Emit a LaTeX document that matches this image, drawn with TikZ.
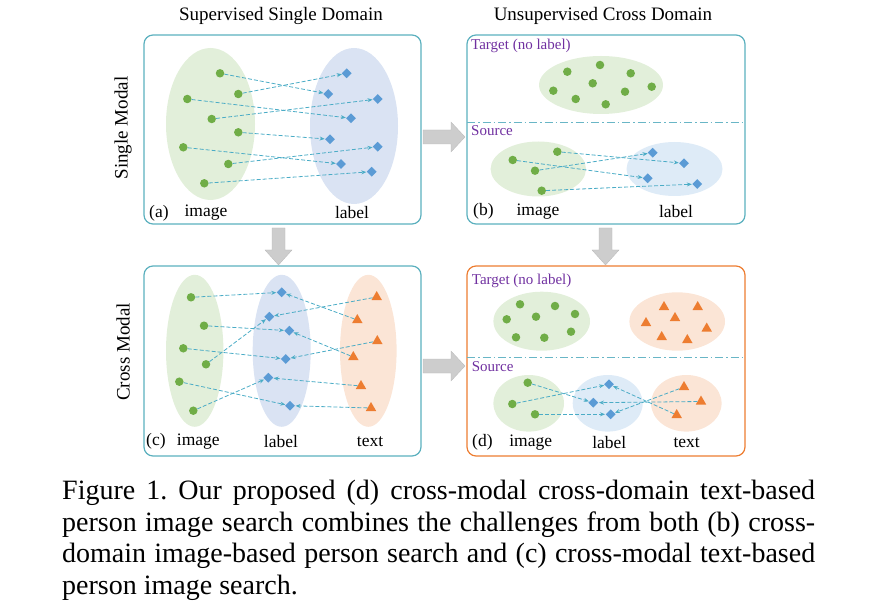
\documentclass[tikz,border=0pt]{standalone}
\usepackage{fontspec}
\setmainfont{Liberation Serif}
\usepackage{tikz}
\usetikzlibrary{shapes.geometric,arrows.meta}
\frenchspacing

\definecolor{dotgreen}{RGB}{112,173,71}
\definecolor{diablue}{RGB}{91,155,213}
\definecolor{triorange}{RGB}{237,125,49}
\definecolor{ellgreen}{RGB}{226,239,218}
\definecolor{ellblue}{RGB}{218,227,243}
\definecolor{ellblueL}{RGB}{222,235,247}
\definecolor{ellorange}{RGB}{251,229,214}
\definecolor{linkteal}{RGB}{75,172,198}
\definecolor{frameteal}{RGB}{91,176,190}
\definecolor{splitteal}{RGB}{105,182,198}
\definecolor{domviolet}{RGB}{112,48,160}
\definecolor{blockgray}{RGB}{205,205,205}

\begin{document}
\begin{tikzpicture}[x=1pt,y=1pt,yscale=-1,xscale=1,
	gdot/.style={circle, fill=dotgreen, inner sep=0pt, minimum size=8.5pt},
	bdia/.style={diamond, fill=diablue, inner sep=0pt, minimum size=10pt},
	otri/.style={regular polygon, regular polygon sides=3, fill=triorange, inner sep=0pt, minimum size=12pt},
	linkline/.style={linkteal, line width=0.8pt, dash pattern=on 4pt off 2pt, -{Stealth[length=5pt,width=4pt]}, shorten >=0.5pt},
	panelbox/.style={line width=1.2pt, rounded corners=9pt},
	splitline/.style={splitteal, line width=1.2pt, dash pattern=on 8pt off 3pt on 1.5pt off 3pt},
	blockarrow/.style={fill=blockgray, draw=blockgray!90!black, line width=0.3pt},
	lbl/.style={inner sep=0pt, font=\fontsize{17.5}{20}\selectfont},
	domtext/.style={inner sep=0pt, anchor=west, text=domviolet, font=\fontsize{15}{18}\selectfont},
	headtext/.style={inner sep=0pt, font=\fontsize{19}{22}\selectfont}]
	\useasboundingbox (0,0) rectangle (872,612);
	
	% Text Node
	\node[headtext] (ttlA) at (281,16) {Supervised Single Domain};
	\node[headtext] (ttlB) at (603,16) {Unsupervised Cross Domain};
	\node[headtext, rotate=90] (rowA) at (123,128) {Single Modal};
	\node[headtext, rotate=90] (rowB) at (123,352) {Cross Modal};
	
	%Shape: Rounded Rectangle
	\draw[panelbox, frameteal] (144,35) rectangle (421,224);
	\draw[panelbox, frameteal] (467,35) rectangle (745,224);
	\draw[panelbox, frameteal] (144,266) rectangle (421,456);
	\draw[panelbox, triorange] (467,266) rectangle (745,456);
	
	%Shape: Block Arrow
	\draw[blockarrow] (423,130) -- (451,130) -- (451,122) -- (465,137) -- (451,152) -- (451,144) -- (423,144) -- cycle;
	\draw[blockarrow] (423,359) -- (451,359) -- (451,351) -- (465,366) -- (451,381) -- (451,373) -- (423,373) -- cycle;
	\draw[blockarrow] (272,228) -- (285,228) -- (285,250) -- (292,250) -- (278.5,265) -- (265,250) -- (272,250) -- cycle;
	\draw[blockarrow] (599,228) -- (612,228) -- (612,250) -- (619,250) -- (605.5,265) -- (592,250) -- (599,250) -- cycle;
	
	%%% (a) single modal, single domain
	%Shape: Ellipse
	\fill[ellgreen] (210.5,124) ellipse [x radius=44.5, y radius=76];
	\fill[ellblue] (354,126) ellipse [x radius=44, y radius=78];
	
	\node[gdot] (ai1) at (220,73.3) {};
	\node[gdot] (ai2) at (238.3,94) {};
	\node[gdot] (ai3) at (187.3,99) {};
	\node[gdot] (ai4) at (211.7,119) {};
	\node[gdot] (ai5) at (238.3,132.3) {};
	\node[gdot] (ai6) at (183.3,147.3) {};
	\node[gdot] (ai7) at (228.3,164) {};
	\node[gdot] (ai8) at (204.3,183.3) {};
	
	\node[bdia] (al1) at (346.7,73.3) {};
	\node[bdia] (al2) at (328.3,94) {};
	\node[bdia] (al3) at (377.7,99) {};
	\node[bdia] (al4) at (351,118.3) {};
	\node[bdia] (al5) at (330,139.3) {};
	\node[bdia] (al6) at (377.7,146.7) {};
	\node[bdia] (al7) at (341,164) {};
	\node[bdia] (al8) at (371.7,171.7) {};
	
	% Connection
	\draw[linkline] (ai1) -- (al2);
	\draw[linkline] (ai2) -- (al1);
	\draw[linkline] (ai3) -- (al4);
	\draw[linkline] (ai4) -- (al3);
	\draw[linkline] (ai5) -- (al5);
	\draw[linkline] (ai6) -- (al7);
	\draw[linkline] (ai7) -- (al6);
	\draw[linkline] (ai8) -- (al8);
	
	% Text Node
	\node[lbl, anchor=west] (tagA) at (149,213) {(a)};
	\node[lbl] (imgA) at (206,213) {image};
	\node[lbl] (labA) at (352,213) {label};
	
	%%% (b) single modal, cross domain
	\node[domtext] (tgtB) at (471,46) {Target (no label)};
	\draw[splitline] (467,122.7) -- (745,122.7);
	\node[domtext] (srcB) at (471,130.7) {Source};
	
	%Shape: Ellipse
	\fill[ellgreen] (601,85) ellipse [x radius=62, y radius=29];
	\fill[ellgreen] (538.3,169) ellipse [x radius=47.7, y radius=27.5];
	\fill[ellblueL] (674.5,169) ellipse [x radius=48, y radius=27];
	
	\node[gdot] (bt1) at (567.3,71.7) {};
	\node[gdot] (bt2) at (600,65) {};
	\node[gdot] (bt3) at (630.7,73.3) {};
	\node[gdot] (bt4) at (592.7,83.3) {};
	\node[gdot] (bt5) at (553.3,90.7) {};
	\node[gdot] (bt6) at (625,91.7) {};
	\node[gdot] (bt7) at (651.7,86.7) {};
	\node[gdot] (bt8) at (575.7,99) {};
	\node[gdot] (bt9) at (605.7,104.3) {};
	
	\node[gdot] (bi1) at (557.3,151.7) {};
	\node[gdot] (bi2) at (512.7,160) {};
	\node[gdot] (bi3) at (535,170.7) {};
	\node[gdot] (bi4) at (541.7,190.7) {};
	
	\node[bdia] (bl1) at (652.7,152.7) {};
	\node[bdia] (bl2) at (684,163.3) {};
	\node[bdia] (bl3) at (647.7,178.3) {};
	\node[bdia] (bl4) at (697.3,184) {};
	
	% Connection
	\draw[linkline] (bi1) -- (bl2);
	\draw[linkline] (bi2) -- (bl3);
	\draw[linkline] (bi3) -- (bl1);
	\draw[linkline] (bi4) -- (bl4);
	
	% Text Node
	\node[lbl, anchor=west] (tagB) at (473,211.7) {(b)};
	\node[lbl] (imgB) at (538,211.7) {image};
	\node[lbl] (labB) at (676,211.7) {label};
	
	%%% (c) cross modal, single domain
	%Shape: Ellipse
	\fill[ellgreen] (194.7,350.8) ellipse [x radius=28.7, y radius=76];
	\fill[ellblue] (281.7,350.8) ellipse [x radius=29, y radius=76];
	\fill[ellorange] (368.3,350.8) ellipse [x radius=28.3, y radius=76];
	
	\node[gdot] (ci1) at (191,297.3) {};
	\node[gdot] (ci2) at (204,325.7) {};
	\node[gdot] (ci3) at (183.3,348.3) {};
	\node[gdot] (ci4) at (206,364.3) {};
	\node[gdot] (ci5) at (179.3,381.7) {};
	\node[gdot] (ci6) at (193.3,410.7) {};
	
	\node[bdia] (cl1) at (281.7,292.3) {};
	\node[bdia] (cl2) at (269.3,316.7) {};
	\node[bdia] (cl3) at (289.3,330.7) {};
	\node[bdia] (cl4) at (285.7,359) {};
	\node[bdia] (cl5) at (268.3,377.7) {};
	\node[bdia] (cl6) at (290,405.7) {};
	
	\node[otri] (ct1) at (376.7,297) {};
	\node[otri] (ct2) at (357.3,320) {};
	\node[otri] (ct3) at (377.3,341) {};
	\node[otri] (ct4) at (353.3,357) {};
	\node[otri] (ct5) at (361,386) {};
	\node[otri] (ct6) at (371,408) {};
	
	% Connection
	\draw[linkline] (ci1) -- (cl1);
	\draw[linkline] (ci2) -- (cl3);
	\draw[linkline] (ci3) -- (cl4);
	\draw[linkline] (ci4) -- (cl2);
	\draw[linkline] (ci5) -- (cl6);
	\draw[linkline] (ci6) -- (cl5);
	\draw[linkline] (ct1) -- (cl2);
	\draw[linkline] (ct2) -- (cl1);
	\draw[linkline] (ct3) -- (cl4);
	\draw[linkline] (ct4) -- (cl3);
	\draw[linkline] (ct5) -- (cl5);
	\draw[linkline] (ct6) -- (cl6);
	
	% Text Node
	\node[lbl, anchor=west] (tagC) at (146,441.7) {(c)};
	\node[lbl] (imgC) at (198.3,441.7) {image};
	\node[lbl] (labC) at (281,441.7) {label};
	\node[lbl] (txtC) at (370,441.7) {text};
	
	%%% (d) cross modal, cross domain
	\node[domtext] (tgtD) at (471.7,280.7) {Target (no label)};
	\draw[splitline] (467,357.7) -- (745,357.7);
	\node[domtext] (srcD) at (471.7,366.7) {Source};
	
	%Shape: Ellipse
	\fill[ellgreen] (541.7,321.2) ellipse [x radius=48.3, y radius=29.5];
	\fill[ellorange] (677.2,321.5) ellipse [x radius=47.8, y radius=29.2];
	\fill[ellgreen] (528.7,403.3) ellipse [x radius=35.3, y radius=28.3];
	\fill[ellblueL] (607.7,403.3) ellipse [x radius=35, y radius=28.3];
	\fill[ellorange] (686.3,403.3) ellipse [x radius=35.3, y radius=28.3];
	
	\node[gdot] (dg1) at (520,304.3) {};
	\node[gdot] (dg2) at (555,306) {};
	\node[gdot] (dg3) at (575,314) {};
	\node[gdot] (dg4) at (536,316.7) {};
	\node[gdot] (dg5) at (506.7,319.3) {};
	\node[gdot] (dg6) at (571,331.7) {};
	\node[gdot] (dg7) at (516,337.3) {};
	\node[gdot] (dg8) at (544.3,337.7) {};
	
	\node[otri] (do1) at (664,307) {};
	\node[otri] (do2) at (697.7,307) {};
	\node[otri] (do3) at (675,318) {};
	\node[otri] (do4) at (646,323) {};
	\node[otri] (do5) at (706.7,328.5) {};
	\node[otri] (do6) at (661.7,337) {};
	\node[otri] (do7) at (687.3,340) {};
	
	\node[gdot] (di1) at (527.7,382.7) {};
	\node[gdot] (di2) at (512.3,404) {};
	\node[gdot] (di3) at (535,414.3) {};
	
	\node[bdia] (dl1) at (609,384.3) {};
	\node[bdia] (dl2) at (593.3,402.7) {};
	\node[bdia] (dl3) at (610.7,414.3) {};
	
	\node[otri] (dt1) at (684,387) {};
	\node[otri] (dt2) at (701,401.5) {};
	\node[otri] (dt3) at (676.7,415) {};
	
	% Connection
	\draw[linkline] (di1) -- (dl2);
	\draw[linkline] (di2) -- (dl1);
	\draw[linkline] (di3) -- (dl3);
	\draw[linkline] (dt1) -- (dl3);
	\draw[linkline] (dt2) -- (dl2);
	\draw[linkline] (dt3) -- (dl1);
	
	% Text Node
	\node[lbl, anchor=west] (tagD) at (472,442.3) {(d)};
	\node[lbl] (imgD) at (530.7,442.3) {image};
	\node[lbl] (labD) at (609.3,442.3) {label};
	\node[lbl] (txtD) at (686.7,442.3) {text};
	
	%%% caption
	\node[anchor=north west, inner sep=0pt, text width=753pt, align=justify,
		font=\fontsize{28}{31.5}\selectfont] (capt) at (62,480)
		{Figure 1. Our proposed (d) cross-modal cross-domain text-based\linebreak
		person image search combines the challenges from both (b) cross-\linebreak
		domain image-based person search and (c) cross-modal text-based\linebreak
		person image search.};
\end{tikzpicture}
\end{document}
